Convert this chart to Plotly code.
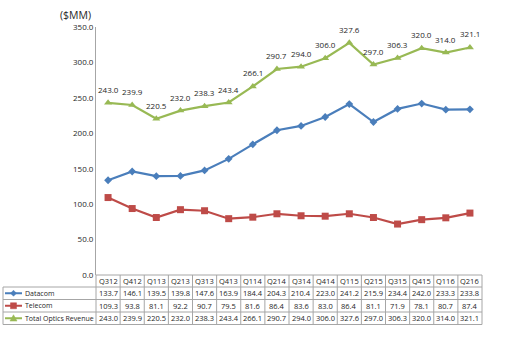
import plotly.graph_objects as go

quarters = ["Q312","Q412","Q113","Q213","Q313","Q413","Q114","Q214","Q314","Q414","Q115","Q215","Q315","Q415","Q116","Q216"]
datacom = [133.7,146.1,139.5,139.8,147.6,163.9,184.4,204.3,210.4,223.0,241.2,215.9,234.4,242.0,233.3,233.8]
telecom = [109.3,93.8,81.1,92.2,90.7,79.5,81.6,86.4,83.6,83.0,86.4,81.1,71.9,78.1,80.7,87.4]
total = [243.0,239.9,220.5,232.0,238.3,243.4,266.1,290.7,294.0,306.0,327.6,297.0,306.3,320.0,314.0,321.1]

W, H = 530, 337
L, R, T, B = 96, 482, 27, 275
PW, PH = R - L, B - T
FONT = "Open Sans"
TXT = "#262626"

def px(xp):
    return (xp - L) / PW

def py(yp):
    return (B - yp) / PH

series = [
    ("Datacom", datacom, "#4A7EBB", "diamond", 6),
    ("Telecom", telecom, "#BE4B48", "square", 7),
    ("Total Optics Revenue", total, "#98B954", "triangle-up", 7),
]

fig = go.Figure()
xs = list(range(len(quarters)))
for name, vals, col, sym, ms in series:
    fig.add_trace(go.Scatter(
        x=xs, y=vals, mode="lines+markers", name=name,
        line=dict(color=col, width=2.2),
        marker=dict(symbol=sym, size=ms, color=col),
        showlegend=False, cliponaxis=False))

shapes = []
annots = []
n = len(quarters)

for i, v in enumerate(total):
    annots.append(dict(xref="x", yref="y", x=i, y=v, text=f"{v:.1f}", showarrow=False,
                       xanchor="center", yanchor="bottom", yshift=6,
                       font=dict(size=8, color=TXT, family=FONT)))

line_col = "#A6A6A6"
row_edges = [275, 287, 299.5, 312, 324.5]
shapes.append(dict(type="line", xref="paper", yref="paper", x0=0, x1=1, y0=py(row_edges[0]), y1=py(row_edges[0]), line=dict(color=line_col, width=1)))
for ye in row_edges[1:]:
    shapes.append(dict(type="line", xref="paper", yref="paper", x0=px(3), x1=1, y0=py(ye), y1=py(ye), line=dict(color=line_col, width=1)))
for i in range(n + 1):
    xv = i / n
    shapes.append(dict(type="line", xref="paper", yref="paper", x0=xv, x1=xv, y0=py(row_edges[0]), y1=py(row_edges[-1]), line=dict(color=line_col, width=1)))
shapes.append(dict(type="line", xref="paper", yref="paper", x0=px(3), x1=px(3), y0=py(row_edges[1]), y1=py(row_edges[-1]), line=dict(color=line_col, width=1)))

def cell_text(xc, yc, text, anchor="center", size=7.5):
    annots.append(dict(xref="paper", yref="paper", x=xc, y=yc, text=text, showarrow=False,
                       xanchor=anchor, yanchor="middle",
                       font=dict(size=size, color=TXT, family=FONT)))

for i, q in enumerate(quarters):
    cell_text((i + 0.5) / n, py((row_edges[0] + row_edges[1]) / 2), q)

def marker_path(sym, cx, cy, s):
    if sym == "diamond":
        pts = [(cx, cy - s), (cx + s, cy), (cx, cy + s), (cx - s, cy)]
    elif sym == "square":
        pts = [(cx - s, cy - s), (cx + s, cy - s), (cx + s, cy + s), (cx - s, cy + s)]
    else:
        pts = [(cx, cy - s), (cx + s, cy + s * 0.8), (cx - s, cy + s * 0.8)]
    return "M " + " L ".join(f"{px(a):.5f},{py(b):.5f}" for a, b in pts) + " Z"

for r, (name, vals, col, sym, ms) in enumerate(series):
    yc = (row_edges[r + 1] + row_edges[r + 2]) / 2
    for i, v in enumerate(vals):
        cell_text((i + 0.5) / n, py(yc), f"{v:.1f}")
    cell_text(px(23), py(yc), name, anchor="left", size=7)
    shapes.append(dict(type="line", xref="paper", yref="paper", x0=px(5), x1=px(22), y0=py(yc), y1=py(yc), line=dict(color=col, width=2)))
    size = {"diamond": 3, "square": 3, "triangle-up": 3.5}[sym]
    shapes.append(dict(type="path", xref="paper", yref="paper", path=marker_path(sym, 13.5, yc, size),
                       fillcolor=col, line=dict(color=col, width=0.5)))

annots.append(dict(xref="paper", yref="paper", x=px(93), y=py(15), xanchor="right", yanchor="middle",
                   text="($MM)", showarrow=False, font=dict(size=10.5, color=TXT, family=FONT)))

fig.update_layout(
    width=W, height=H,
    margin=dict(l=L, r=W - R, t=T, b=H - B),
    paper_bgcolor="white", plot_bgcolor="white",
    xaxis=dict(range=[-0.5, n - 0.5], visible=False, fixedrange=True),
    yaxis=dict(range=[0, 350], dtick=50, tickformat=".1f", showgrid=False, zeroline=False,
               showline=True, linecolor="#A6A6A6", linewidth=1, ticks="",
               tickfont=dict(size=8, color=TXT, family=FONT)),
    shapes=shapes, annotations=annots,
)
fig.write_html("out.html")
